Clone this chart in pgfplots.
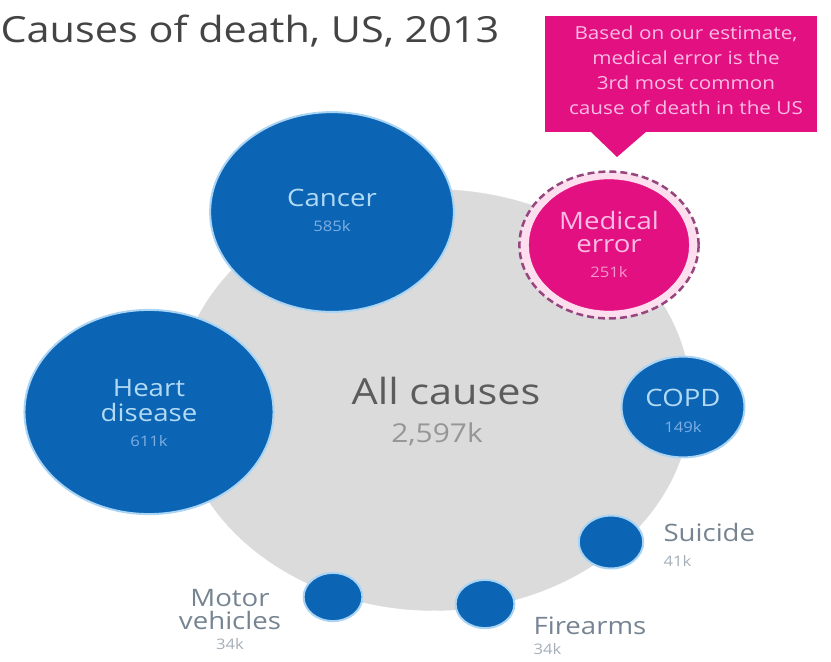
\documentclass[border=0pt]{standalone}
\usepackage{pgfplots}
\pgfplotsset{compat=1.18}
\usepackage{pgfplotstable}
\usepackage{fontspec}
\setmainfont{Open Sans}[FakeStretch=1.15]

\definecolor{bubbleBlue}{RGB}{11,100,180}
\definecolor{haloBlue}{RGB}{170,212,244}
\definecolor{medMagenta}{RGB}{226,16,128}
\definecolor{ringPurple}{RGB}{150,70,125}
\definecolor{palePink}{RGB}{252,222,238}
\definecolor{allGray}{RGB}{219,219,219}
\definecolor{titleGray}{RGB}{68,68,68}
\definecolor{nameBlue}{RGB}{178,218,245}
\definecolor{valBlue}{RGB}{125,175,228}
\definecolor{namePink}{RGB}{250,188,228}
\definecolor{valPink}{RGB}{245,150,205}
\definecolor{outName}{RGB}{118,132,146}
\definecolor{outVal}{RGB}{165,174,184}
\definecolor{allText}{RGB}{92,92,92}
\definecolor{allVal}{RGB}{150,150,150}

% deaths in thousands, bubble centres in picture pixels
\pgfplotstableread{
x y v
434 400 2597
}\allcauses
\pgfplotstableread{
x y v
149 412 611
332 212 585
683 407 149
611 542 41
333 597 34
485 604 34
}\causes
\pgfplotstableread{
x y v
609 245 251
}\mederror

% area proportional to value, picture is stretched 1.22 horizontally
\pgfdeclareplotmark{bubble}{%
  \pgfpathellipse{\pgfpointorigin}{\pgfpoint{1.22*\ry pt}{0pt}}{\pgfpoint{0pt}{\ry pt}}%
  \pgfusepathqfillstroke}

\pgfplotsset{
  bubble/.style={only marks, scatter, mark=bubble,
    visualization depends on={4.13*sqrt(\thisrow{v})+#1 \as \ry}},
}

\begin{document}
\begin{tikzpicture}
\begin{axis}[
    width=831pt, height=662pt, scale only axis,
    xmin=0, xmax=831, ymin=0, ymax=662, y dir=reverse,
    hide axis, clip=false,
]
\addplot[bubble=0, scatter/use mapped color={draw=allGray, fill=allGray}]
    table[x=x,y=y] {\allcauses};

\fill[medMagenta] (axis cs:545,16) rectangle (axis cs:817,132);
\fill[medMagenta] (axis cs:590,131) -- (axis cs:647,131) -- (axis cs:617,157) -- cycle;

\addplot[bubble=8, scatter/use mapped color={draw=ringPurple, fill=palePink},
    mark options={line width=2.5pt, dash pattern=on 7pt off 4pt}]
    table[x=x,y=y] {\mederror};
\addplot[bubble=0, scatter/use mapped color={draw=medMagenta, fill=medMagenta}]
    table[x=x,y=y] {\mederror};
\addplot[bubble=0, scatter/use mapped color={draw=haloBlue, fill=bubbleBlue},
    mark options={line width=2pt}] table[x=x,y=y] {\causes};

% label anchors (baselines)
\coordinate (title) at (axis cs:-3,43);
\coordinate (note) at (axis cs:686,22);
\coordinate (heartA) at (axis cs:149,397);
\coordinate (heartB) at (axis cs:149,422);
\coordinate (heartV) at (axis cs:149,447);
\coordinate (cancerA) at (axis cs:332,207);
\coordinate (cancerV) at (axis cs:332,232);
\coordinate (copdA) at (axis cs:683,407);
\coordinate (copdV) at (axis cs:683,433);
\coordinate (medA) at (axis cs:609,230);
\coordinate (medB) at (axis cs:609,253);
\coordinate (medV) at (axis cs:609,278);
\coordinate (motorA) at (axis cs:230,607);
\coordinate (motorB) at (axis cs:230,630);
\coordinate (motorV) at (axis cs:230,650);
\coordinate (suicA) at (axis cs:660,542);
\coordinate (suicV) at (axis cs:660,567);
\coordinate (fireA) at (axis cs:530,635);
\coordinate (fireV) at (axis cs:530,655);
\coordinate (allA) at (axis cs:446,405);
\coordinate (allV) at (axis cs:437,443);
\end{axis}

\node[anchor=base west, text=titleGray, font=\fontsize{36}{40}\selectfont]
    at (title) {Causes of death, US, 2013};
\node[anchor=north, align=center, text=namePink, font=\fontsize{18}{25}\selectfont]
    at (note) {Based on our estimate,\\medical error is the\\3rd most common\\cause of death in the US};

\begin{scope}[every node/.style={anchor=base, font=\fontsize{24}{28}\selectfont}]
\node[text=nameBlue] at (heartA) {Heart};
\node[text=nameBlue] at (heartB) {disease};
\node[text=nameBlue] at (cancerA) {Cancer};
\node[text=nameBlue] at (copdA) {COPD};
\node[text=namePink] at (medA) {Medical};
\node[text=namePink] at (medB) {error};
\node[text=outName] at (motorA) {Motor};
\node[text=outName] at (motorB) {vehicles};
\node[text=outName, anchor=base west] at (suicA) {Suicide};
\node[text=outName, anchor=base west] at (fireA) {Firearms};
\end{scope}
\begin{scope}[every node/.style={anchor=base, font=\fontsize{14.5}{17}\selectfont}]
\node[text=valBlue] at (heartV) {611k};
\node[text=valBlue] at (cancerV) {585k};
\node[text=valBlue] at (copdV) {149k};
\node[text=valPink] at (medV) {251k};
\node[text=outVal] at (motorV) {34k};
\node[text=outVal, anchor=base west] at (suicV) {41k};
\node[text=outVal, anchor=base west] at (fireV) {34k};
\end{scope}
\node[anchor=base, text=allText, font=\fontsize{36}{40}\selectfont] at (allA) {All causes};
\node[anchor=base, text=allVal, font=\fontsize{26}{30}\selectfont] at (allV) {2,597k};

\pgfresetboundingbox
\useasboundingbox (current axis.south west) rectangle (current axis.north east);
\end{tikzpicture}
\end{document}
